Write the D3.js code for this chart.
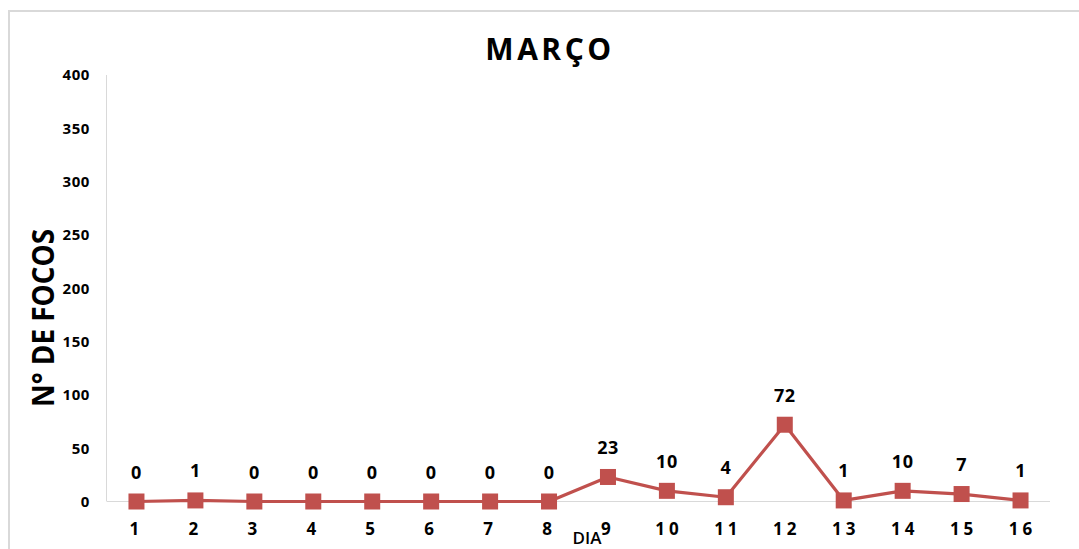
<!DOCTYPE html>
<html><head><meta charset="utf-8">
<script src="https://cdn.jsdelivr.net/npm/d3@7"></script>
<style>body{margin:0;background:#fff}svg{display:block}</style>
</head><body>
<svg id="c" width="1079" height="549"></svg>
<script>
const days = ["1","2","3","4","5","6","7","8","9","10","11","12","13","14","15","16"];
const focos = [0,1,0,0,0,0,0,0,23,10,4,72,1,10,7,1];
const yTicks = [0,50,100,150,200,250,300,350,400];
const title = "MARÇO";
const yTitle = "N° DE FOCOS";
const xTitle = "DIA";

(function(){
const svg = d3.select("#c");
const font = "'Open Sans', sans-serif";
const color = "#C0504D";

// outer border
svg.append("rect").attr("x",9).attr("y",11).attr("width",1080).attr("height",560)
  .attr("fill","none").attr("stroke","#d9d9d9").attr("stroke-width",2);

const pl = 107, pr = 1050, pt = 75, pb = 501.5;
const x = d3.scaleBand().domain(days).range([pl,pr]);
const y = d3.scaleLinear().domain([0,400]).range([pb,pt]);

// y axis line
svg.append("line").attr("x1",106.5).attr("x2",106.5).attr("y1",pt).attr("y2",pb)
  .attr("stroke","#d9d9d9").attr("stroke-width",1);
// baseline
svg.append("line").attr("x1",pl).attr("x2",pr).attr("y1",pb).attr("y2",pb)
  .attr("stroke","#d9d9d9").attr("stroke-width",1);

// y tick labels
const yAxis = d3.axisLeft(y).tickValues(yTicks).tickSize(0).tickPadding(17);
const ya = svg.append("g").attr("transform",`translate(${pl},0)`).call(yAxis);
ya.select(".domain").remove();
ya.selectAll("text").attr("font-family",font).attr("font-weight","bold")
  .attr("font-size","15px").attr("letter-spacing","0.6px").attr("fill","#000");

// x tick labels
const xAxis = d3.axisBottom(x).tickSize(0).tickPadding(21);
const xa = svg.append("g").attr("transform",`translate(0,${pb})`).call(xAxis);
xa.select(".domain").remove();
xa.selectAll("text").attr("font-family",font).attr("font-weight","bold")
  .attr("font-size","17px").attr("fill","#000").attr("letter-spacing","4px")
  .attr("dx",d=>d.length>1?"2px":0);

const cx = d => x(d) + x.bandwidth()/2;

// line
const line = d3.line().x((d,i)=>cx(days[i])).y(d=>y(d));
svg.append("path").datum(focos).attr("d",line).attr("fill","none")
  .attr("stroke",color).attr("stroke-width",3.2).attr("stroke-linejoin","round");

// markers
svg.selectAll("rect.m").data(focos).join("rect").attr("class","m")
  .attr("x",(d,i)=>cx(days[i])-8).attr("y",d=>y(d)-8)
  .attr("width",16).attr("height",16).attr("fill",color);

// data labels
svg.selectAll("text.lbl").data(focos).join("text").attr("class","lbl")
  .attr("x",(d,i)=>cx(days[i])).attr("y",d=>y(d)-23)
  .attr("text-anchor","middle").attr("font-family",font).attr("font-weight","bold")
  .attr("font-size","18px").attr("letter-spacing","0.5px").attr("fill","#000").text(d=>d);

// title
svg.append("text").attr("x",550).attr("y",60).attr("text-anchor","middle")
  .attr("font-family",font).attr("font-weight","bold").attr("font-size","30px")
  .attr("letter-spacing","3.5px").attr("fill","#000").text(title);

// y title
svg.append("text").attr("transform","translate(54,318) rotate(-90)")
  .attr("text-anchor","middle").attr("font-family",font).attr("font-weight","bold")
  .attr("font-size","31px").attr("textLength",178).attr("lengthAdjust","spacingAndGlyphs")
  .attr("fill","#000").text(yTitle);

// x title
svg.append("text").attr("x",587).attr("y",544).attr("text-anchor","middle")
  .attr("font-family",font).attr("font-weight","600").attr("font-size","17px")
  .attr("fill","#000").text(xTitle);
})();
</script>
</body></html>
